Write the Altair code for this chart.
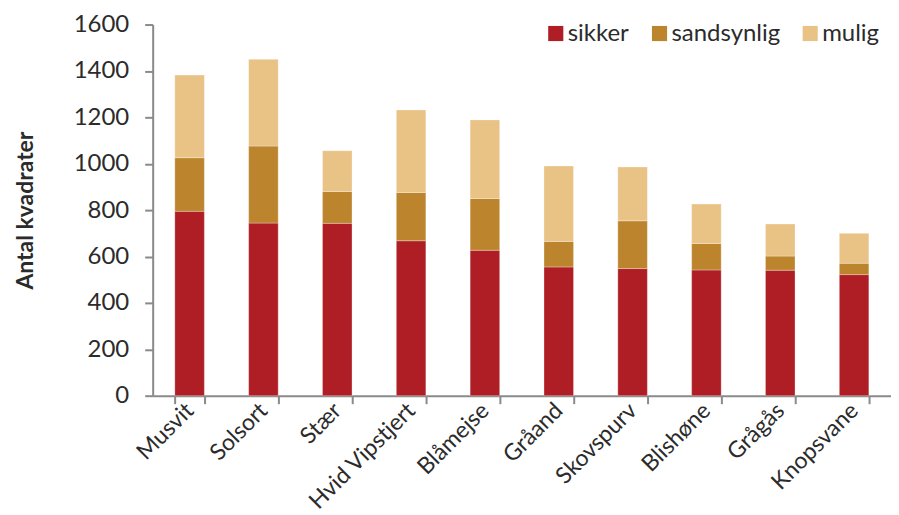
import altair as alt
import pandas as pd

species = ["Musvit", "Solsort", "Stær", "Hvid Vipstjert", "Blåmejse",
           "Gråand", "Skovspurv", "Blishøne", "Grågås", "Knopsvane"]
sikker = [795, 744, 743, 668, 627, 555, 548, 542, 541, 522]
sandsynlig = [231, 332, 137, 208, 223, 110, 206, 114, 61, 49]
mulig = [356, 374, 176, 356, 339, 325, 232, 170, 138, 129]

categories = ["sikker", "sandsynlig", "mulig"]
colors = ["#AE1E24", "#BC842C", "#E9C285"]

rows = []
for i, s in enumerate(species):
    for k, (cat, vals) in enumerate(zip(categories, [sikker, sandsynlig, mulig])):
        rows.append({"art": s, "kategori": cat, "antal": vals[i], "orden": k})
df = pd.DataFrame(rows)

FONT = "Lato"
FS = 24

chart = alt.Chart(df).mark_bar(stroke="white", strokeWidth=0.5, strokeOpacity=0.6).encode(
    x=alt.X("art:N", sort=species,
            scale=alt.Scale(paddingInner=0.6, paddingOuter=0.3),
            axis=alt.Axis(title=None, labelAngle=-45, labelAlign="right", labelBaseline="middle",
                          tickBand="extent", labelFontSize=23, labelFont=FONT, labelColor="#2b2b2b",
                          domainColor="#8a8a8a", domainWidth=2, tickColor="#8a8a8a", tickWidth=2,
                          tickSize=8, labelPadding=3)),
    y=alt.Y("antal:Q", stack="zero",
            scale=alt.Scale(domain=[0, 1600]),
            axis=alt.Axis(title="Antal kvadrater", values=list(range(0, 1601, 200)), grid=False,
                          format="d",
                          titleFont=FONT, titleFontSize=23, titleFontWeight="bold", titleColor="#2b2b2b",
                          titlePadding=36, labelFontSize=FS, labelFont=FONT, labelColor="#2b2b2b",
                          labelPadding=16, domainColor="#8a8a8a", domainWidth=2, tickColor="#8a8a8a",
                          tickWidth=2, tickSize=8)),
    color=alt.Color("kategori:N", sort=categories,
                    scale=alt.Scale(domain=categories, range=colors),
                    legend=alt.Legend(title=None, orient="none", direction="horizontal",
                                      legendX=392, legendY=-3, symbolType="square", symbolSize=230,
                                      symbolStrokeWidth=0, labelFontSize=FS, labelFont=FONT,
                                      labelColor="#2b2b2b", columnPadding=18, labelOffset=0)),
    order=alt.Order("orden:Q", sort="ascending"),
).properties(
    width=740, height=372,
    autosize=alt.AutoSizeParams(type="pad"),
    padding={"left": 6, "top": 4, "right": 0, "bottom": 0},
).configure_view(stroke=None)

chart.save("out.html", embed_options={"renderer": "svg", "actions": False})
